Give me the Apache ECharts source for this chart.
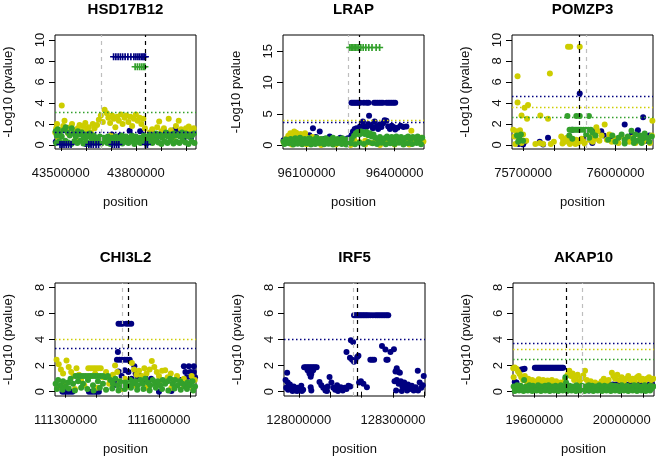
<!DOCTYPE html>
<html>
<head>
<meta charset="utf-8">
<script src="https://cdn.jsdelivr.net/npm/echarts@6/dist/echarts.min.js"></script>
<style>
  html, body { margin: 0; padding: 0; background: #fff; }
  #chart { width: 656px; height: 459px; }
</style>
</head>
<body>
<div id="chart"></div>
<script>
// positions are in kb (label shows full bp), values are -log10(p)

// ---- HSD17B12 ----
const hsdNavy = [[43480,0.3],[43520,0.2],[43560,0.4],[43600,0.1],[43640,0.3],[43704,1.0],[43737,0.9],[43750,0.5],[43775,1.36],[43790,0.6],[43817,1.3],[43845,0.4],[43880,0.6],[43910,0.9],[43935,1.1],[43957,1.5],[43965,1.3],[43990,0.5],[44020,0.7]];
const hsdNavyPlus = [[43711,8.4],[43720,8.4],[43729,8.4],[43738,8.4],[43747,8.4],[43757,8.4],[43768,8.4],[43780,8.4],[43792,8.4],[43800,8.4],[43808,8.4],[43815,8.4],[43822,8.4],[43828,8.4],[43833,8.4],[43838,8.4],
  [43497,0.05],[43505,0.05],[43513,0.05],[43522,0.05],[43531,0.05],[43541,0.05],[43612,0.05],[43621,0.05],[43630,0.05],[43641,0.05],[43651,0.05],[43705,0.05],[43714,0.05],[43723,0.05],[43732,0.05],[43838,0.05],[43846,0.05]];
const hsdGreenPlus = [[43797,7.45],[43806,7.45],[43815,7.45],[43823,7.45],[43830,7.45],[43836,7.45]];
const hsdYellow = [[43478,1.2],[43482,1.6],[43485,2.0],[43490,0.9],[43498,1.4],[43504,3.76],[43510,1.8],[43515,2.3],[43522,1.5],[43530,1.1],[43538,1.7],[43545,2.0],[43552,1.4],[43560,1.0],[43568,1.6],[43575,1.9],[43583,1.3],[43590,1.8],[43598,2.1],[43605,1.5],[43612,1.7],[43620,1.2],[43628,2.0],[43635,1.6],
  [43645,1.9],[43652,2.4],[43660,2.8],[43668,2.2],[43675,3.35],[43684,3.03],[43690,2.6],[43697,2.1],[43705,2.8],[43712,2.5],[43718,1.7],[43725,2.7],[43732,2.3],[43740,2.9],[43747,2.0],[43755,2.6],[43762,2.8],[43770,2.2],[43778,2.7],[43785,1.8],[43792,2.5],[43800,2.9],[43807,2.3],[43815,2.6],[43822,2.0],[43830,2.5],[43836,1.6],
  [43855,1.2],[43865,1.5],[43875,0.9],[43885,1.7],[43893,2.24],[43902,1.3],[43912,1.6],[43922,1.0],[43931,2.5],[43940,1.4],[43950,1.1],[43960,1.8],[43971,2.3],[43980,1.5],[43990,1.2],[44000,1.6],[44011,1.77],[44020,1.3],[44031,1.6],
  [43490,0.5],[43560,0.6],[43700,0.9],[43780,0.7],[43950,0.6]];
const hsdGreen = [[43480,1.3],[43484,0.9],[43488,1.5],[43496,1.1],[43504,0.8],[43512,1.4],[43520,1.7],[43528,1.2],[43536,0.9],[43544,1.6],[43552,1.1],[43560,0.8],[43568,1.3],[43576,1.0],[43584,1.2],[43592,0.7],[43600,1.0],[43608,0.8],[43616,1.1],[43624,0.6],[43632,0.9],[43640,0.7],[43648,0.5],[43656,0.8],[43664,0.6],[43672,0.7],[43680,0.5],[43688,0.8],[43696,0.6],[43704,0.7],[43712,0.5],[43720,0.8],[43728,0.6],[43736,0.7],[43744,0.9],[43752,0.6],[43760,0.8],[43768,0.5],[43776,0.7],[43784,0.9],[43792,0.6],[43800,0.8],[43808,0.5],[43816,0.7],[43824,0.6],[43832,0.9],[43840,0.7],[43848,0.8],[43856,1.0],[43864,0.7],[43872,0.9],[43880,1.1],[43888,0.8],[43896,1.0],[43904,0.7],[43912,0.9],[43920,1.2],[43928,0.8],[43936,1.0],[43944,0.7],[43952,1.1],[43960,0.9],[43968,1.0],[43976,0.8],[43984,1.2],[43992,0.9],[44000,1.1],[44008,0.8],[44016,1.0],[44024,0.9],[44032,1.1],
  [43482,0.2],[43494,0.35],[43506,0.15],[43518,0.4],[43530,0.25],[43542,0.1],[43554,0.35],[43566,0.2],[43578,0.4],[43590,0.15],[43602,0.3],[43614,0.1],[43626,0.35],[43638,0.2],[43650,0.3],[43662,0.15],[43674,0.35],[43686,0.2],[43698,0.1],[43710,0.3],[43722,0.2],[43734,0.4],[43746,0.15],[43758,0.3],[43770,0.2],[43782,0.35],[43794,0.1],[43806,0.3],[43818,0.2],[43830,0.4],[43842,0.15],[43854,0.3],[43866,0.2],[43878,0.4],[43890,0.25],[43902,0.1],[43914,0.35],[43926,0.2],[43938,0.4],[43950,0.15],[43962,0.3],[43974,0.2],[43986,0.4],[43998,0.25],[44010,0.1],[44022,0.35],[44034,0.2]];
const hsdXTicks = [43500, 43600, 43700, 43800, 43900, 44000];
const hsdXLabels = [43500, 43800];
const hsdVLines = [43660, 43837];          // grey, black
const hsdHLines = [3.12, 1.25];            // green, navy

// ---- LRAP ----
const lrapNavy = [[96015,0.9],[96022,0.8],[96030,0.7],[96040,0.5],[96060,0.4],[96090,1.0],[96110,1.6],[96122,2.7],[96132,1.3],[96145,2.2],[96160,1.0],[96179,1.4],[96195,0.8],[96215,1.2],[96232,0.9],[96241,1.1],[96253,1.6],[96258,2.2],[96264,2.6],[96270,2.7],[96276,2.4],[96282,3.0],[96288,2.9],[96292,3.8],[96298,3.0],[96304,2.9],[96310,3.4],[96313,4.7],[96320,3.1],[96326,2.7],[96332,3.8],[96338,3.0],[96344,2.6],[96349,3.3],[96355,2.9],[96361,3.5],[96366,4.0],[96372,3.9],[96378,3.0],[96384,2.6],[96390,3.1],[96396,2.9],[96402,2.5],[96410,2.8],[96420,3.1],[96430,2.9],[96440,3.0],
  [96253,6.8],[96258,6.8],[96263,6.8],[96268,6.8],[96273,6.8],[96278,6.8],[96283,6.8],[96295,6.8],[96305,6.8],[96311,6.8],[96330,6.8],[96336,6.8],[96342,6.8],[96348,6.8],[96354,6.8],[96360,6.8],[96372,6.8],[96378,6.8],[96384,6.8],[96390,6.8],[96396,6.8],[96402,6.8]];
const lrapGreenPlus = [[96247,15.6],[96252,15.6],[96257,15.6],[96262,15.6],[96267,15.6],[96272,15.6],[96278,15.6],[96285,15.6],[96293,15.6],[96302,15.6],[96312,15.6],[96323,15.6],[96337,15.6],[96349,15.6]];
const lrapYellow = [[96022,0.5],[96030,1.0],[96038,1.5],[96045,1.9],[96052,1.7],[96058,2.2],[96065,2.0],[96072,1.6],[96080,1.8],[96088,1.4],[96095,1.9],[96102,1.2],[96110,0.9],[96120,1.3],[96132,0.7],[96145,1.0],[96158,0.6],[96170,0.9],[96185,0.5],[96200,0.8],[96215,0.4],[96230,0.7],[96245,0.3],[96262,0.9],[96280,0.5],[96300,0.7],[96318,0.4],[96335,0.8],[96352,0.5],[96370,0.6],[96390,0.4],[96410,0.7],[96430,0.5],[96445,0.9],[96457,2.3],[96465,1.0],[96478,0.8],[96490,1.2],[96498,0.6],
  [96050,0.1],[96100,0.15],[96150,0.05],[96200,0.1],[96250,0.05],[96300,0.1],[96350,0.05],[96400,0.1],[96450,0.1]];
const lrapGreen = [[96022,0.6],[96030,0.9],[96038,0.5],[96046,1.0],[96054,0.7],[96062,1.1],[96070,0.8],[96078,1.2],[96086,0.6],[96094,1.0],[96102,0.7],[96110,1.1],[96118,0.5],[96126,0.9],[96134,1.2],[96142,0.8],[96150,1.0],[96158,0.6],[96166,1.1],[96174,0.7],[96182,0.9],[96190,1.2],[96198,0.6],[96206,1.0],[96214,0.8],[96222,1.1],[96230,0.5],[96238,0.9],[96246,0.6],[96254,1.0],[96262,1.5],[96268,1.9],[96274,2.1],[96280,1.7],[96286,2.2],[96292,2.0],[96298,1.8],[96304,2.1],[96310,1.6],[96316,1.9],[96322,1.4],[96328,1.7],[96334,1.2],[96342,1.0],[96350,1.3],[96358,0.8],[96366,1.1],[96374,1.4],[96382,1.0],[96390,1.3],[96398,0.9],[96406,1.4],[96414,1.1],[96422,1.3],[96430,0.9],[96438,1.2],[96446,1.4],[96454,1.0],[96462,1.3],[96470,1.1],[96478,1.4],[96486,0.9],[96494,1.2],
  [96025,0.2],[96040,0.3],[96055,0.1],[96070,0.25],[96085,0.15],[96100,0.3],[96115,0.1],[96130,0.2],[96145,0.3],[96160,0.15],[96175,0.25],[96190,0.1],[96205,0.3],[96220,0.2],[96235,0.1],[96250,0.3],[96265,0.15],[96280,0.4],[96295,0.2],[96310,0.5],[96325,0.3],[96340,0.2],[96355,0.4],[96370,0.15],[96385,0.3],[96400,0.2],[96415,0.4],[96430,0.1],[96445,0.3],[96460,0.2],[96475,0.35],[96490,0.15]];
const lrapXTicks = [96100, 96200, 96300, 96400];
const lrapXLabels = [96100, 96400];
const lrapVLines = [96241, 96279];         // grey, black
const lrapHLines = [4.0, 3.6];             // yellow, navy

// ---- POMZP3 ----
const pomNavy = [[75884,4.9],[75860,1.45],[75862,0.5],[75781,0.7],[75754,0.3],[75765,0.05],[75705,0.3],[75686,0.1],[76090,2.65],[76030,1.95],[76073,1.4],[75933,1.3],[75954,1.3],[75962,0.9],[75990,0.7],[76005,0.3],[76040,0.5],[76053,0.95],[76100,0.4],[76110,0.9],[75925,0.2],[75900,0.6],[75700,0.05]];
const pomYellow = [[75846,9.35],[75853,9.35],[75884,9.35],[75682,6.55],[75787,6.8],[75682,4.05],[75705,3.55],[75716,3.8],[75695,2.8],[75713,2.5],[75756,2.8],[75781,2.5],[76120,2.3],
  [75668,1.45],[75678,1.3],[75690,1.4],[75700,1.0],[75672,0.8],[75686,0.5],[75695,0.2],[75710,0.4],[75675,0.1],
  [75754,0.2],[75765,0.1],[75790,0.1],[75800,0.3],[75740,0.1],
  [75824,0.8],[75830,0.5],[75836,0.3],[75842,0.7],[75848,0.4],[75854,0.2],[75860,0.6],[75866,0.3],[75872,0.5],[75878,0.2],[75884,0.4],[75890,0.6],[75896,0.3],[75900,0.15],[75828,0.15],[75852,0.1],[75870,0.1],
  [75912,0.5],[75920,0.8],[75926,0.3],[75938,1.7],[75936,0.6],[75942,1.3],[75948,0.4],[75955,0.9],[75965,1.95],[75972,0.5],[75980,1.0],[75988,0.3],
  [76000,0.6],[76010,0.2],[76020,0.8],[76030,0.4],[76045,0.3],[76055,0.7],[76065,0.2],[76078,0.5],[76090,0.3],[76100,0.6],[76112,0.2],[76118,0.9]];
const pomGreen = [[75844,2.75],[75873,2.75],[75884,2.75],[75914,2.75],
  [75851,1.45],[75857,1.45],[75863,1.45],[75869,1.45],[75875,1.45],[75881,1.45],[75888,1.45],[75896,1.45],[75904,1.45],[75912,1.45],[75920,1.45],
  [75680,0.9],[75688,0.6],[75693,1.0],[75700,0.4],[75684,0.3],
  [75850,0.9],[75860,0.6],[75905,1.0],[75915,0.7],[75925,1.2],[75935,0.9],
  [75976,0.5],[75990,0.9],[76000,0.3],[76010,0.7],[76020,1.0],[76030,0.5],[76040,0.8],[76052,1.35],[76058,0.6],[76065,1.0],[76072,0.4],[76080,0.9],[76088,0.6],[76095,1.1],[76102,0.7],[76110,0.3],[76118,0.8],[76060,0.2],[76085,0.2],[76030,0.15]];
const pomXTicks = [75700, 75800, 75900, 76000, 76100];
const pomXLabels = [75700, 76000];
const pomVLines = [75906, 75884];          // grey, black
const pomHLines = [4.67, 3.62, 2.63];      // navy, yellow, green

// ---- CHI3L2 ----
const chiNavy = [[111470,5.2],[111477,5.2],[111483,5.2],[111495,5.2],[111503,5.2],[111511,5.2],
  [111468,3.05],[111465,2.45],[111473,2.45],[111481,2.45],[111490,2.45],[111498,2.45],[111506,2.45],[111521,1.95],[111470,1.55],[111480,1.2],[111490,1.65],[111502,1.5],[111512,1.0],[111525,1.4],[111532,1.1],[111540,1.2],[111548,0.9],[111556,1.1],[111564,0.8],[111575,1.0],[111460,0.9],[111455,0.5],
  [111680,1.95],[111696,1.95],[111712,1.95],[111685,1.5],[111701,1.5],[111712,1.5],[111690,1.1],[111705,1.1],[111716,1.1],[111670,0.9],
  [111290,0.0],[111298,0.0],[111306,0.0],[111314,0.0],[111322,0.0],[111375,0.0],[111383,0.0],[111391,0.0],[111399,0.0],[111407,0.0],[111600,0.0],[111640,0.05]];
const chiYellow = [[111271,2.45],[111278,2.1],[111285,1.7],[111292,1.4],[111303,2.4],[111310,1.9],[111318,1.5],[111326,1.2],[111335,1.8],[111343,1.3],[111350,0.9],[111373,1.8],[111381,1.8],[111389,1.8],[111397,1.8],[111405,1.8],[111413,1.8],[111380,1.2],[111395,1.4],[111420,1.1],[111430,1.5],[111440,1.0],[111452,1.3],[111459,2.0],[111466,1.5],[111475,0.8],[111490,1.0],[111500,0.4],[111513,2.2],[111520,1.7],[111528,1.3],[111536,1.6],[111545,1.2],[111553,1.8],[111560,1.4],[111570,1.7],[111577,2.35],[111585,1.9],[111593,1.5],[111600,1.2],[111610,1.6],[111620,1.65],[111628,1.1],[111638,1.4],[111648,0.9],[111658,1.2],[111668,0.8],[111680,1.0],[111692,0.7],[111705,1.2],[111715,0.9],
  [111275,0.3],[111300,0.6],[111330,0.2],[111360,0.5],[111400,0.3],[111440,0.6],[111480,0.2],[111520,0.5],[111560,0.3],[111600,0.6],[111640,0.3],[111680,0.5],[111710,0.2]];
const chiGreen = [[111268,0.6],[111276,0.9],[111284,0.5],[111292,0.8],[111300,0.4],[111308,0.7],[111316,1.0],[111324,0.6],[111332,1.2],[111340,1.2],[111348,1.2],[111356,1.2],[111364,1.2],[111372,1.2],[111380,1.2],[111388,1.2],[111396,1.2],[111404,1.2],[111412,1.2],[111420,1.2],[111428,1.1],[111436,1.2],[111340,0.8],[111356,0.6],[111372,0.9],[111388,0.5],[111404,0.8],[111420,0.6],[111444,0.9],[111452,0.6],[111460,1.0],[111468,0.5],[111476,0.8],[111484,0.4],[111492,0.7],[111500,0.5],[111508,0.9],[111516,0.6],[111524,0.8],[111532,0.5],[111540,0.9],[111548,0.6],[111556,1.0],[111564,0.7],[111572,0.5],[111580,0.9],[111588,0.6],[111596,0.8],[111604,0.5],[111612,0.9],[111620,0.6],[111628,0.8],[111636,1.0],[111644,0.6],[111652,0.9],[111660,0.5],[111668,0.8],[111676,0.6],[111684,0.4],[111692,0.7],[111700,0.5],[111708,0.8],[111716,0.4],
  [111272,0.2],[111290,0.15],[111310,0.25],[111330,0.1],[111350,0.3],[111370,0.2],[111390,0.1],[111410,0.3],[111430,0.15],[111450,0.25],[111470,0.1],[111490,0.2],[111510,0.3],[111530,0.15],[111550,0.2],[111570,0.1],[111590,0.3],[111610,0.2],[111630,0.1],[111650,0.25],[111670,0.15],[111690,0.2],[111710,0.1]];
const chiXTicks = [111300, 111400, 111500, 111600, 111700];
const chiXLabels = [111300, 111600];
const chiVLines = [111483, 111500];        // grey, black
const chiHLines = [4.0, 3.31];             // yellow, navy

// ---- IRF5 ----
const irfNavy = [[128176,5.86],[128181,5.86],[128186,5.86],[128191,5.86],[128196,5.86],[128201,5.86],[128206,5.86],[128211,5.86],[128216,5.86],[128221,5.86],[128228,5.86],[128236,5.86],[128244,5.86],[128250,5.86],[128256,5.86],[128262,5.86],[128268,5.86],[128274,5.86],[128280,5.86],[128285,5.86],
  [128166,3.95],[128173,3.8],[128152,3.05],[128163,2.6],[128170,2.45],[128180,2.4],[128186,2.65],[128190,2.75],[128176,2.3],[128228,2.45],[128234,2.45],[128240,2.45],[128265,3.5],[128276,3.23],[128292,3.05],[128303,3.25],[128279,2.45],[128283,2.45],
  [128017,1.88],[128022,1.88],[128027,1.88],[128032,1.88],[128037,1.88],[128042,1.88],[128047,1.88],[128052,1.88],[128057,1.88],[128028,1.65],[128034,1.6],[128040,1.6],[128046,1.65],[128034,1.4],[128040,1.35],[128038,1.15],
  [127963,1.45],[127958,0.9],[127965,0.7],[127972,0.55],[127960,0.3],[127966,0.15],[127972,0.35],[127978,0.2],[127984,0.4],[127990,0.1],[127996,0.3],[128002,0.2],[128008,0.45],[128014,0.15],[127980,0.05],[127995,0.05],[128010,0.05],[128038,0.35],[128040,0.1],
  [128066,0.75],[128072,0.5],[128078,0.3],[128085,0.1],[128092,0.4],[128098,1.12],[128104,0.7],[128110,0.3],[128116,0.15],[128122,0.5],[128128,0.2],[128134,0.35],[128140,0.1],[128146,0.3],[128152,0.2],[128158,0.45],[128164,0.4],[128090,0.05],[128125,0.05],
  [128192,0.7],[128198,0.8],[128206,0.6],[128217,0.35],
  [128312,1.8],[128318,1.5],[128308,1.55],[128322,1.45],[128305,0.8],[128312,0.9],[128318,0.6],[128325,0.8],[128330,0.4],[128336,0.7],[128342,0.3],[128348,0.55],[128354,0.2],[128360,0.45],[128366,0.1],[128372,0.35],[128379,1.6],[128385,0.7],[128390,0.3],[128398,1.2],[128395,0.5],[128310,0.1],[128328,0.05],[128345,0.1],[128380,0.1]];
const irfXTicks = [128000, 128100, 128200, 128300, 128400];
const irfXLabels = [128000, 128300];
const irfVLines = [128172, 128185];        // grey, black
const irfHLines = [4.0];                   // navy

// ---- AKAP10 ----
const akapNavy = [[19602,1.83],[19607,1.83],[19612,1.83],[19617,1.83],[19622,1.83],[19627,1.83],[19632,1.83],[19637,1.83],[19642,1.83],[19647,1.83],[19652,1.83],[19657,1.83],[19662,1.83],[19667,1.83],[19672,1.83],[19677,1.83],[19682,1.83],[19687,1.83],[19692,1.83],[19697,1.83],[19702,1.83],[19707,1.83],[19712,1.83],[19717,1.83],[19722,1.83],[19727,1.83],[19732,1.83],
  [19510,0.75],[19518,0.7],[19540,1.7],[19548,1.72],[19555,1.75],[19925,0.65],[19935,0.62],[19945,0.55],[19960,0.55],[19975,0.55],[19990,0.55],[20005,0.55],[20020,0.55],[20035,0.55],[20050,0.55],[20065,0.55],[20080,0.55],[20095,0.55],[20110,0.55],[20125,0.55],[20140,0.55],[19600,0.2],[19700,0.15],[19800,0.2],[19850,0.1]];
const akapYellow = [[19503,1.8],[19510,1.85],[19518,1.75],[19525,1.55],[19532,1.35],[19505,1.1],[19540,1.1],[19548,0.9],[19556,1.2],[19564,0.8],[19572,1.0],[19580,0.7],[19590,0.9],[19600,0.6],[19610,0.8],[19620,0.95],[19630,0.7],[19640,0.9],[19650,0.6],[19660,0.85],[19670,0.7],[19680,0.9],[19690,0.6],[19700,0.8],[19710,0.5],[19720,0.7],[19730,0.6],[19740,0.9],[19752,1.3],[19760,1.6],[19768,1.2],[19775,1.4],[19782,0.9],[19790,1.1],[19798,1.3],[19806,0.8],[19815,1.0],[19824,1.25],[19832,1.6],[19840,0.9],[19848,0.6],[19858,0.8],[19868,0.5],[19878,0.7],[19888,0.4],[19898,0.6],[19908,0.8],[19918,1.0],[19928,0.7],[19940,0.9],[19955,1.45],[19962,1.2],[19970,1.0],[19980,1.3],[19990,0.9],[20000,1.1],[20010,0.8],[20020,1.0],[20030,1.2],[20040,0.9],[20050,1.0],[20060,0.8],[20070,1.1],[20078,1.2],[20086,0.9],[20095,1.0],[20105,0.8],[20115,1.0],[20125,1.1],[20135,0.9],[20145,1.0],
  [19520,0.3],[19560,0.2],[19620,0.3],[19680,0.2],[19760,0.4],[19800,0.3],[19860,0.2],[19920,0.3],[19980,0.4],[20040,0.3],[20100,0.2],[20140,0.4]];
const akapGreen = [[19505,0.4],[19513,0.3],[19521,0.5],[19529,0.2],[19537,0.45],[19545,0.3],[19553,0.9],[19561,0.4],[19569,0.2],[19577,0.5],[19585,0.3],[19593,0.45],[19601,0.2],[19609,0.35],[19617,0.5],[19625,0.25],[19633,0.4],[19641,0.2],[19649,0.45],[19657,0.3],[19665,0.5],[19673,0.2],[19681,0.4],[19689,0.3],[19697,0.45],[19705,0.2],[19713,0.35],[19721,0.5],[19729,0.25],[19737,0.4],[19742,1.1],[19745,0.7],[19753,0.3],[19761,0.45],[19769,0.2],[19777,0.4],[19785,0.3],[19793,0.5],[19801,0.2],[19809,0.35],[19817,0.45],[19825,0.25],[19833,0.4],[19841,0.2],[19849,0.5],[19857,0.3],[19865,0.45],[19873,0.2],[19881,0.4],[19889,0.3],[19897,0.5],[19905,0.2],[19913,0.35],[19921,0.45],[19929,0.25],[19937,0.4],[19945,0.2],[19953,0.5],[19961,0.3],[19969,0.45],[19977,0.2],[19985,0.4],[19993,0.3],[20001,0.5],[20009,0.2],[20017,0.35],[20025,0.45],[20033,0.25],[20041,0.4],[20049,0.2],[20057,0.5],[20065,0.3],[20073,0.45],[20081,0.2],[20089,0.4],[20097,0.3],[20105,0.5],[20113,0.2],[20121,0.35],[20129,0.45],[20137,0.25],[20145,0.4],
  [19510,0.05],[19530,0.1],[19550,0.05],[19570,0.1],[19590,0.05],[19610,0.1],[19630,0.05],[19650,0.1],[19670,0.05],[19690,0.1],[19710,0.05],[19730,0.1],[19750,0.05],[19770,0.1],[19790,0.05],[19810,0.1],[19830,0.05],[19850,0.1],[19870,0.05],[19890,0.1],[19910,0.05],[19930,0.1],[19950,0.05],[19970,0.1],[19990,0.05],[20010,0.1],[20030,0.05],[20050,0.1],[20070,0.05],[20090,0.1],[20110,0.05],[20130,0.1]];
const akapXTicks = [19600, 19700, 19800, 19900, 20000, 20100];
const akapXLabels = [19600, 20000];
const akapVLines = [19820, 19748];         // grey, black
const akapHLines = [3.69, 3.23, 2.47];     // navy, yellow, green

const NAVY = '#000080';
const YELLOW = '#cdcd00';
const GREEN = '#33a02c';
const GREY = '#bebebe';
const PLUS = 'path://M0,3.8H10V6.2H0Z M3.8,0H6.2V10H3.8Z';
const FONT = "'Liberation Sans', Arial, Helvetica, sans-serif";

const panels = [
  { title: 'HSD17B12', ytitle: '-Log10 (pvalue)', box: [55, 35, 141, 114], xr: [43477, 44040], yr: [-0.38, 10.47], yTicks: [0, 2, 4, 6, 8, 10],
    xTicks: hsdXTicks, xLabels: hsdXLabels, navy: hsdNavy, yellow: hsdYellow, green: hsdGreen, navyPlus: hsdNavyPlus, greenPlus: hsdGreenPlus,
    v: [[hsdVLines[0], GREY], [hsdVLines[1], '#000']], h: [[hsdHLines[0], GREEN], [hsdHLines[1], NAVY]] },
  { title: 'LRAP', ytitle: '-Log10 pvalue', box: [283, 35, 141, 114], xr: [96020, 96500], yr: [-0.6, 17.6], yTicks: [0, 5, 10, 15],
    xTicks: lrapXTicks, xLabels: lrapXLabels, navy: lrapNavy, yellow: lrapYellow, green: lrapGreen, navyPlus: [], greenPlus: lrapGreenPlus,
    v: [[lrapVLines[0], GREY], [lrapVLines[1], '#000']], h: [[lrapHLines[0], YELLOW], [lrapHLines[1], NAVY]] },
  { title: 'POMZP3', ytitle: '-Log10 (pvalue)', box: [512, 35, 141, 114], xr: [75664, 76122], yr: [-0.38, 10.47], yTicks: [0, 2, 4, 6, 8, 10],
    xTicks: pomXTicks, xLabels: pomXLabels, navy: pomNavy, yellow: pomYellow, green: pomGreen, navyPlus: [], greenPlus: [],
    v: [[pomVLines[0], GREY], [pomVLines[1], '#000']], h: [[pomHLines[0], NAVY], [pomHLines[1], YELLOW], [pomHLines[2], GREEN]] },
  { title: 'CHI3L2', ytitle: '-Log10 (pvalue)', box: [55, 283, 141, 113], xr: [111266, 111719], yr: [-0.33, 8.33], yTicks: [0, 2, 4, 6, 8],
    xTicks: chiXTicks, xLabels: chiXLabels, navy: chiNavy, yellow: chiYellow, green: chiGreen, navyPlus: [], greenPlus: [],
    v: [[chiVLines[0], GREY], [chiVLines[1], '#000']], h: [[chiHLines[0], YELLOW], [chiHLines[1], NAVY]] },
  { title: 'IRF5', ytitle: '-Log10 (pvalue)', box: [284, 283, 141, 113], xr: [127953, 128402], yr: [-0.33, 8.33], yTicks: [0, 2, 4, 6, 8],
    xTicks: irfXTicks, xLabels: irfXLabels, navy: irfNavy, yellow: [], green: [], navyPlus: [], greenPlus: [],
    v: [[irfVLines[0], GREY], [irfVLines[1], '#000']], h: [[irfHLines[0], NAVY]] },
  { title: 'AKAP10', ytitle: '-Log10 (pvalue)', box: [513, 283, 141, 113], xr: [19502, 20148], yr: [-0.33, 8.33], yTicks: [0, 2, 4, 6, 8],
    xTicks: akapXTicks, xLabels: akapXLabels, navy: akapNavy, yellow: akapYellow, green: akapGreen, navyPlus: [], greenPlus: [],
    v: [[akapVLines[0], GREY], [akapVLines[1], '#000']], h: [[akapHLines[0], NAVY], [akapHLines[1], YELLOW], [akapHLines[2], GREEN]] }
];

const grid = [], xAxis = [], yAxis = [], title = [], series = [];

panels.forEach((p, i) => {
  const [left, top, w, h] = p.box;
  grid.push({ left: left, top: top, width: w, height: h, show: true, borderColor: '#000', borderWidth: 1, backgroundColor: 'transparent' });
  title.push({ text: p.title, left: left + w / 2, top: top - 33, textAlign: 'center', padding: 0,
    textStyle: { fontSize: 15, fontWeight: 'bold', color: '#000', fontFamily: FONT } });
  xAxis.push({
    type: 'value', gridIndex: i, min: p.xr[0], max: p.xr[1],
    axisLine: { show: false }, splitLine: { show: false },
    axisTick: { show: true, length: 6, customValues: p.xTicks, lineStyle: { color: '#000' } },
    axisLabel: { customValues: p.xLabels, margin: 18, fontSize: 13, color: '#111', fontFamily: FONT,
      formatter: v => String(Math.round(v * 1000)) },
    name: 'position', nameLocation: 'middle', nameGap: 47,
    nameTextStyle: { fontSize: 13, color: '#111', fontFamily: FONT }
  });
  yAxis.push({
    type: 'value', gridIndex: i, min: p.yr[0], max: p.yr[1],
    axisLine: { show: false }, splitLine: { show: false },
    axisTick: { show: true, length: 6, customValues: p.yTicks, lineStyle: { color: '#000' } },
    axisLabel: { customValues: p.yTicks, rotate: 90, margin: 8, fontSize: 13, color: '#111', fontFamily: FONT },
    name: p.ytitle, nameLocation: 'middle', nameGap: 40, nameRotate: 90,
    nameTextStyle: { fontSize: 13, color: '#111', fontFamily: FONT }
  });
  const dots = (data, color, symbol, size) => ({
    type: 'scatter', xAxisIndex: i, yAxisIndex: i, data: data, symbol: symbol || 'circle',
    symbolSize: size || 6, itemStyle: { color: color, opacity: 1 }, silent: true, clip: true
  });
  series.push(dots(p.navy, NAVY));
  series.push(dots(p.yellow, YELLOW));
  series.push(dots(p.green, GREEN));
  series.push(dots(p.navyPlus, NAVY, PLUS, 7));
  series.push(dots(p.greenPlus, GREEN, PLUS, 7));
  series.push({
    type: 'scatter', xAxisIndex: i, yAxisIndex: i, data: [], silent: true, z: 5,
    markLine: {
      silent: true, symbol: 'none', animation: false, label: { show: false },
      data: p.v.map(([x, c]) => ({ xAxis: x, lineStyle: { color: c, type: [4, 4], width: 1.2 } }))
        .concat(p.h.map(([y, c]) => ({ yAxis: y, lineStyle: { color: c, type: [1.5, 2.5], width: 1.4 } })))
    }
  });
});

const chart = echarts.init(document.getElementById('chart'), null, { renderer: 'canvas' });
chart.setOption({
  animation: false,
  backgroundColor: '#fff',
  textStyle: { fontFamily: FONT },
  title: title,
  grid: grid,
  xAxis: xAxis,
  yAxis: yAxis,
  series: series
});
</script>
</body>
</html>
